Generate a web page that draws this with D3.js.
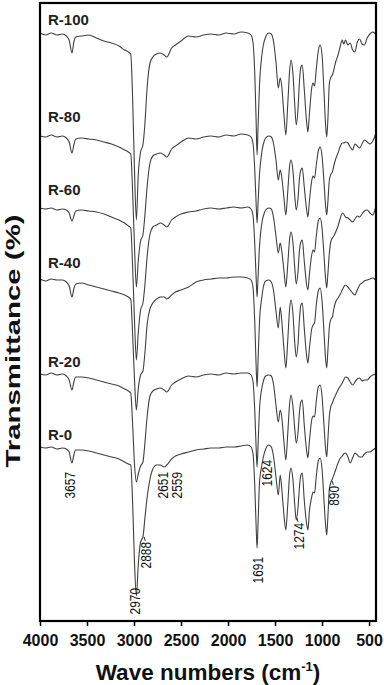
<!DOCTYPE html>
<html>
<head>
<meta charset="utf-8">
<script src="https://cdn.jsdelivr.net/npm/d3@7"></script>
<style>
    body { margin: 0; background: #fff; }
    svg { display: block; font-family: "Liberation Sans", Arial, sans-serif; }
</style>
</head>
<body>
<div id="chart"></div>
<script>
// wavenumber grid (cm-1) shared by all spectra
const waveNumbers = [
    4000, 3940, 3880, 3820, 3760, 3720, 3690, 3660, 3640, 3620,
    3560, 3480, 3400, 3320, 3240, 3160, 3100, 3060, 3035, 3015,
    2995, 2975, 2955, 2930, 2905, 2885, 2860, 2830, 2800, 2760,
    2720, 2680, 2651, 2600, 2559, 2500, 2420, 2340, 2260, 2180,
    2100, 2020, 1940, 1860, 1790, 1755, 1735, 1715, 1700, 1691,
    1680, 1665, 1640, 1624, 1600, 1565, 1540, 1515, 1490, 1465,
    1445, 1430, 1405, 1385, 1365, 1345, 1330, 1310, 1290, 1274,
    1255, 1240, 1225, 1210, 1190, 1165, 1150, 1135, 1110, 1095,
    1080, 1060, 1040, 1020, 1000, 980, 962, 950, 938, 922,
    905, 890, 875, 855, 830, 805, 785, 770, 750, 725,
    700, 675, 650, 625, 600, 575, 550, 520, 490, 460, 430
];

// transmittance relative to each spectrum's own baseline (a.u.)
const r100 = [
    0, -2, 0, -2, -1, -3, -7, -20, -9, -4,
    -3, -2, -5, -8, -10, -13, -17, -19, -21, -65,
    -137, -187, -142, -119, -112, -92, -54, -30, -24, -21,
    -20, -22, -24, -15, -12, -8, -3, -4, -2, -1,
    -2, 0, -1, 1, 0, -2, -9, -42, -92, -122,
    -92, -52, -22, -12, -4, 0, -1, -9, -29, -55,
    -45, -52, -82, -102, -72, -38, -27, -40, -72, -92,
    -75, -48, -34, -32, -55, -88, -99, -82, -55, -50,
    -53, -35, -18, -12, -22, -57, -92, -104, -87, -50,
    -44, -42, -37, -29, -22, -13, -7, -11, -7, -12,
    -10, -17, -19, -9, -6, -11, -12, -5, -1, 1, -1
];
const r80 = [
    0, -1, 1, -1, 0, -2, -6, -17, -9, -3,
    -2, -3, -4, -6, -8, -11, -14, -16, -18, -55,
    -110, -151, -125, -105, -99, -80, -50, -27, -20, -18,
    -17, -19, -21, -13, -10, -6, -2, -3, -1, 0,
    -1, 1, 0, 2, 1, -1, -7, -35, -70, -87,
    -66, -38, -16, -8, -2, 0, -1, -8, -24, -44,
    -34, -40, -62, -79, -56, -30, -24, -34, -60, -74,
    -62, -42, -34, -32, -50, -73, -81, -66, -45, -40,
    -42, -28, -15, -11, -20, -45, -70, -79, -66, -44,
    -38, -36, -30, -23, -17, -10, -7, -7, -6, -7,
    -11, -14, -8, -10, -12, -8, -4, -6, -8, -5, 2
];
const r60 = [
    0, -1, 0, -2, -1, -2, -5, -13, -8, -3,
    -2, -3, -4, -6, -9, -12, -15, -18, -20, -58,
    -112, -152, -125, -102, -95, -78, -48, -26, -19, -17,
    -15, -17, -19, -12, -9, -6, -4, -3, -1, 0,
    -1, 0, 1, 0, 1, -1, -7, -37, -72, -89,
    -68, -38, -15, -8, -2, 0, -1, -10, -28, -45,
    -35, -42, -63, -79, -57, -31, -24, -34, -60, -76,
    -63, -42, -34, -32, -52, -76, -82, -67, -47, -42,
    -44, -27, -13, -10, -20, -46, -71, -80, -66, -45,
    -33, -30, -28, -24, -18, -10, -5, -6, -9, -10,
    -12, -14, -11, -8, -9, -6, -3, -2, -5, -7, 1
];
const r40 = [
    0, -2, 0, -1, -1, -3, -7, -18, -10, -5,
    -4, -6, -8, -10, -12, -14, -16, -18, -20, -55,
    -100, -131, -110, -96, -92, -75, -45, -30, -24, -20,
    -18, -18, -20, -16, -13, -11, -8, -3, -1, 0,
    1, 1, 2, 2, 1, -1, -8, -45, -90, -108,
    -80, -42, -18, -8, -2, -1, -3, -12, -32, -49,
    -28, -40, -70, -89, -62, -30, -21, -34, -64, -78,
    -64, -40, -26, -24, -48, -76, -84, -70, -50, -46,
    -44, -25, -12, -9, -22, -52, -80, -89, -72, -48,
    -40, -38, -30, -23, -19, -15, -11, -8, -6, -8,
    -11, -14, -16, -11, -6, -4, -2, -1, 0, 1, -1
];
const r20 = [
    0, -1, 1, -1, 0, -2, -6, -16, -8, -3,
    -3, -4, -6, -8, -10, -12, -15, -17, -19, -50,
    -90, -108, -100, -92, -88, -70, -42, -22, -17, -15,
    -14, -16, -18, -11, -8, -5, -2, -3, -1, 0,
    -1, 1, 0, 1, 1, -1, -7, -38, -76, -93,
    -70, -35, -14, -7, -2, -1, -2, -11, -31, -48,
    -36, -42, -68, -86, -60, -30, -21, -32, -55, -69,
    -58, -38, -28, -26, -50, -76, -84, -68, -46, -42,
    -43, -26, -13, -11, -22, -50, -75, -83, -66, -42,
    -32, -29, -25, -21, -16, -12, -9, -6, -3, -4,
    -8, -11, -8, -5, -4, -7, -6, -6, -3, -1, 0
];
const r0 = [
    0, -1, 0, -2, -1, -2, -5, -16, -8, -3,
    -3, -4, -6, -8, -10, -12, -15, -17, -18, -55,
    -115, -149, -118, -95, -90, -72, -50, -32, -22, -18,
    -18, -20, -18, -12, -9, -7, -5, -3, -2, -1,
    -1, 0, 0, 1, 2, 0, -6, -40, -82, -101,
    -75, -35, -18, -10, -2, 2, 0, -10, -30, -48,
    -28, -40, -68, -83, -58, -28, -21, -32, -58, -73,
    -60, -40, -28, -26, -52, -76, -83, -65, -50, -45,
    -46, -28, -14, -11, -22, -52, -78, -88, -70, -42,
    -35, -32, -28, -23, -16, -11, -9, -7, -6, -10,
    -16, -11, -6, -8, -10, -10, -7, -5, -5, -3, -1
];

const seriesNames = ["R-100", "R-80", "R-60", "R-40", "R-20", "R-0"];
const seriesValues = [r100, r80, r60, r40, r20, r0];
// vertical offsets used to stack the spectra
const offsets = [588, 485, 413, 342, 247, 174];
const labelLevels = [596, 499, 426, 353, 254, 181];
const labelWave = 3915;

const xTicks = [4000, 3500, 3000, 2500, 2000, 1500, 1000, 500];

// band assignments written under the R-0 spectrum
const peakNames = ["3657", "2970", "2888", "2651", "2559", "1691", "1624", "1274", "890"];
const peakWaves = [3680, 2985, 2870, 2690, 2540, 1680, 1590, 1245, 870];
const peakTops = [149, 33, 79, 149, 149, 64, 161, 98, 135];
const peakLeads = [0, 0, 5, 0, 0, 0, 0, 5, 5];

const margin = { top: 3, right: 8, bottom: 64, left: 40 },
    width = 384 - margin.left - margin.right,
    height = 685 - margin.top - margin.bottom;

let svg = d3.select("#chart").append("svg")
    .attr("width", 384)
    .attr("height", 685);

let g = svg.append("g")
    .attr("transform", "translate(" + margin.left + "," + margin.top + ")");

let x = d3.scaleLinear().domain([4000, 426]).range([0, width]);
let y = d3.scaleLinear().domain([0, 618]).range([height, 0]);

let line = d3.line()
    .x(d => x(d[0]))
    .y(d => y(d[1]))
    .curve(d3.curveMonotoneX);

seriesValues.forEach((vals, k) => {
    let pts = waveNumbers.map((w, i) => [w, offsets[k] + vals[i]]);
    g.append("path")
        .datum(pts)
        .attr("fill", "none")
        .attr("stroke", "#404040")
        .attr("stroke-width", 1.1)
        .attr("d", line);

    g.append("text")
        .attr("x", x(labelWave))
        .attr("y", y(labelLevels[k]))
        .style("font-size", "15px")
        .style("font-weight", "bold")
        .style("fill", "#222")
        .text(seriesNames[k]);
});

// peak annotations, with short leader ticks on some
peakNames.forEach((p, i) => {
    let px = x(peakWaves[i]), py = y(peakTops[i]);
    g.append("text")
        .attr("transform", "translate(" + px + "," + py + ") rotate(-90) scale(0.85,1)")
        .attr("text-anchor", "end")
        .attr("dy", "0.36em")
        .style("font-size", "14px")
        .style("fill", "#111")
        .text(p);
    if (peakLeads[i] > 0) {
        g.append("line")
            .attr("x1", px - 1).attr("x2", px - 2)
            .attr("y1", py - 1).attr("y2", y(peakTops[i] + peakLeads[i]))
            .attr("stroke", "#333")
            .attr("stroke-width", 1);
    }
});

// frame
g.append("rect")
    .attr("x", 0)
    .attr("y", 0)
    .attr("width", width)
    .attr("height", height)
    .attr("fill", "none")
    .attr("stroke", "black")
    .attr("stroke-width", 2.2);

let xAxis = g.append("g")
    .attr("transform", "translate(0," + height + ")")
    .call(d3.axisBottom(x).tickValues(xTicks).tickSize(5).tickPadding(9).tickFormat(d3.format("d")));
xAxis.select(".domain").remove();
xAxis.selectAll(".tick line").attr("stroke-width", 1.5);
xAxis.selectAll(".tick text")
    .style("font-size", "16px")
    .style("font-weight", "bold")
    .style("font-family", "'Liberation Sans', Arial, sans-serif")
    .style("fill", "#111");

let xTitle = svg.append("text")
    .attr("x", margin.left + width / 2)
    .attr("y", 680)
    .attr("text-anchor", "middle")
    .style("font-size", "22.5px")
    .style("font-weight", "bold")
    .style("fill", "#111");
xTitle.append("tspan").text("Wave numbers (cm");
xTitle.append("tspan").attr("dy", -9).style("font-size", "13px").text("-1");
xTitle.append("tspan").attr("dy", 9).text(")");

svg.append("text")
    .attr("transform", "translate(13,341) rotate(-90) scale(1.4,1)")
    .attr("text-anchor", "middle")
    .attr("dy", "0.35em")
    .style("font-size", "21px")
    .style("font-weight", "bold")
    .style("fill", "#111")
    .text("Transmittance (%)");
</script>
</body>
</html>
